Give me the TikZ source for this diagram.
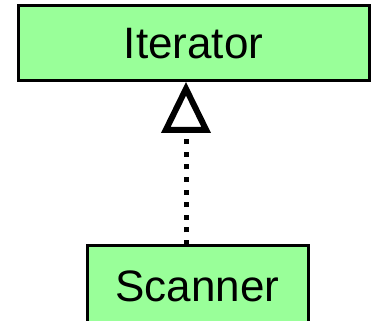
\documentclass[tikz,border=0pt]{standalone}
\usepackage{fontspec}
\setmainfont{Liberation Sans}
\definecolor{boxgreen}{RGB}{153,255,153}
\tikzset{
  classbox/.style={draw=black, line width=3pt, fill=boxgreen, inner sep=0pt,
    font=\fontsize{44}{50}\selectfont},
  realizes/.style={line width=5pt, dash pattern=on 5pt off 7.6pt},
  headline/.style={line width=6pt, line join=miter, fill=white}
}

\begin{document}
\begin{tikzpicture}[x=1pt, y=-1pt]
      \useasboundingbox (0,0) rectangle (373,321);
      % Classes
      \node[classbox, minimum width=351pt, minimum height=75pt] (iter) at (193.5,43.5) {Iterator};
      \node[classbox, minimum width=221pt, minimum height=80pt] (scan) at (197.5,286) {Scanner};
      % Interface realization
      \coordinate (from) at (186,245);
      \coordinate (base) at (186,130);
      \draw[realizes] (from) -- (base);
      % Hollow triangle head
      \draw[headline] (186,88.8) -- (206.2,130) -- (165.8,130) -- cycle;
    \end{tikzpicture}
\end{document}
